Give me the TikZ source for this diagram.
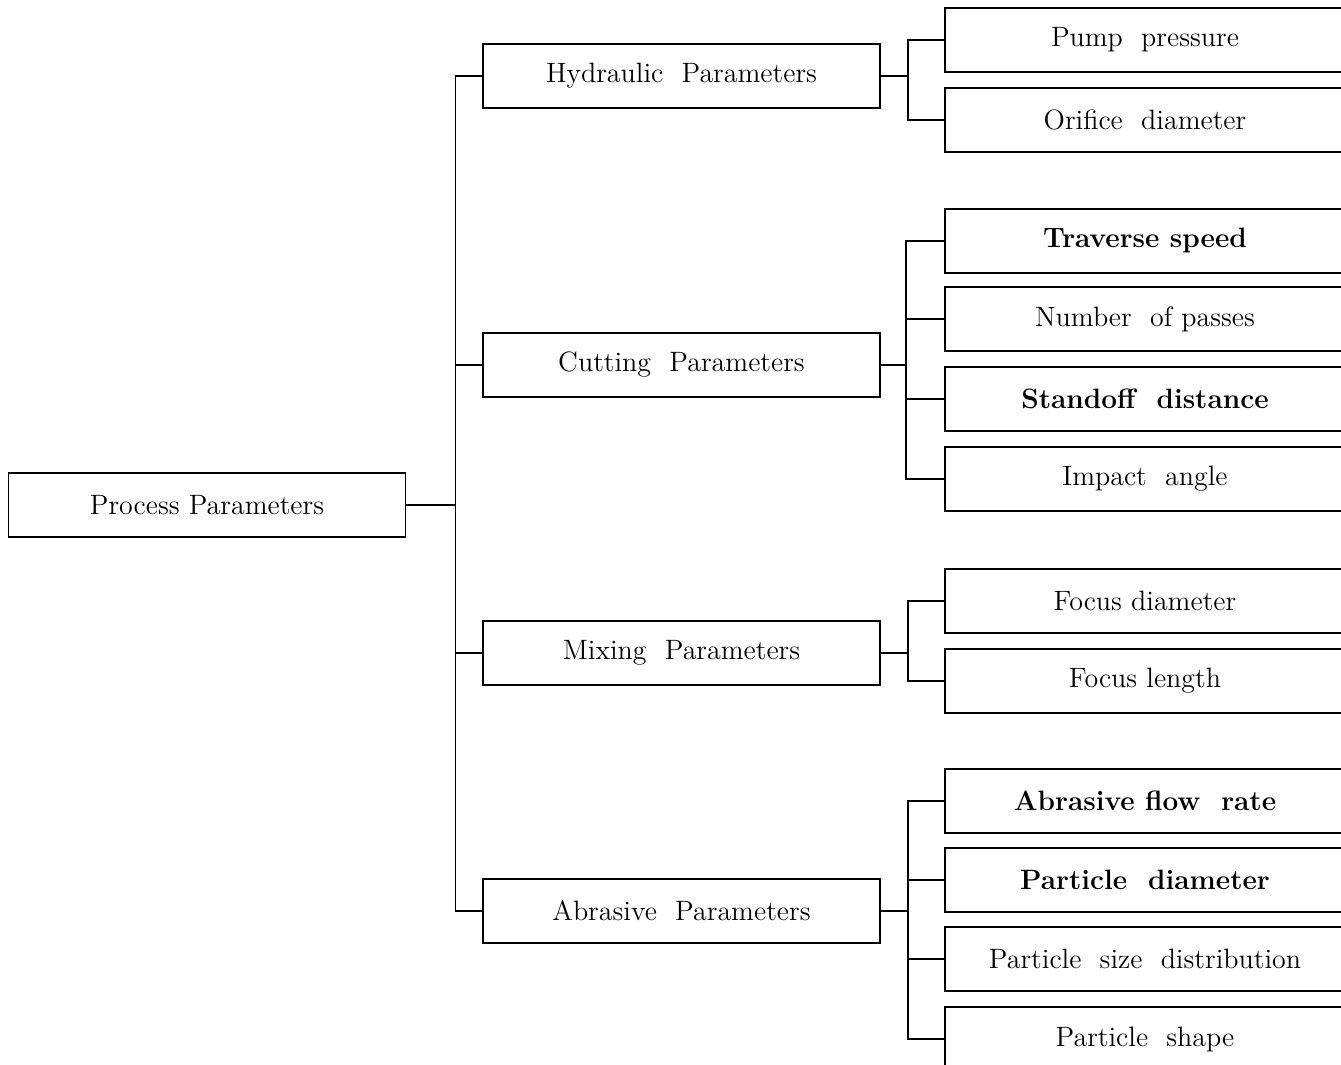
\documentclass[tikz,border=0pt]{standalone}
\usepackage{tikz}
\usetikzlibrary{positioning}
\tikzstyle{box}=[draw,rectangle,line width=0.75pt,inner sep=0pt,
  minimum width=198.5pt,minimum height=32pt,font=\fontsize{14}{16}\selectfont]
\tikzstyle{leaf}=[box,minimum width=200pt]
\tikzstyle{link}=[line width=0.75pt]

\begin{document}
\begin{tikzpicture}[x=0.5pt,y=-0.5pt]
    \useasboundingbox (0,0) rectangle (1341,1065);
    \clip (0,0) rectangle (1341,1065);

    % root
    \node [box] (proc) at (207,505) {Process Parameters};

    % parameter groups
    \node [box] (hyd) at (681.5,76) {Hydraulic\ \ Parameters};
    \node [box] (cut) at (681.5,365) {Cutting\ \ Parameters};
    \node [box] (mix) at (681.5,653) {Mixing\ \ Parameters};
    \node [box] (abr) at (681.5,911) {Abrasive\ \ Parameters};

    % single parameters
    \foreach \name/\y/\txt in {pp/40/Pump\ \ pressure,od/120/Orifice\ \ diameter,
        tr/241/\textbf{Traverse speed},np/319/Number\ \ of passes,
        so/399/\textbf{Standoff\ \ distance},ia/479/Impact\ \ angle,
        fd/601/Focus diameter,fl/681/Focus length,
        af/801/\textbf{Abrasive flow\ \ rate},pd/880/\textbf{Particle\ \ diameter},
        ps/959/Particle\ \ size\ \ distribution,sh/1039/Particle\ \ shape} {
      \node [leaf] (\name) at (1145,\y) {\txt};
    }

    % connectors
    \foreach \g in {hyd,cut,mix,abr}
      \draw [link] (proc.east) -- +(49,0) |- (\g.west);
    \foreach \c in {pp,od}
      \draw [link] (hyd.east) -- +(27,0) |- (\c.west);
    \foreach \c in {tr,np,so,ia}
      \draw [link] (cut.east) -- +(25,0) |- (\c.west);
    \foreach \c in {fd,fl}
      \draw [link] (mix.east) -- +(27,0) |- (\c.west);
    \foreach \c in {af,pd,ps,sh}
      \draw [link] (abr.east) -- +(27,0) |- (\c.west);
\end{tikzpicture}
\end{document}
